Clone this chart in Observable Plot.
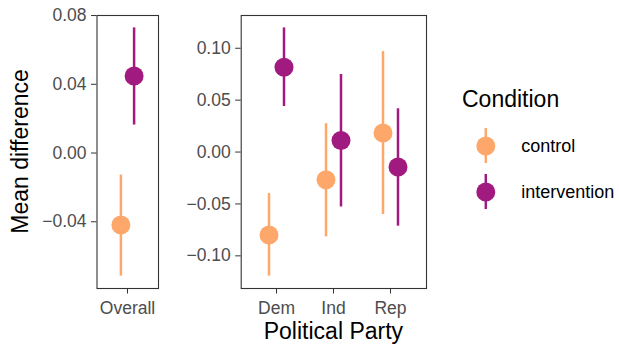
<!DOCTYPE html>
<html><head><meta charset="utf-8">
<script src="https://cdn.jsdelivr.net/npm/d3@7"></script>
<script src="https://cdn.jsdelivr.net/npm/@observablehq/plot@0.6"></script>
<style>
body{margin:0;background:#fff;}
#chart{position:relative;width:619px;height:346px;font-family:"Liberation Sans",Arial,sans-serif;overflow:hidden;background:#fff;}
#chart svg{position:absolute;overflow:visible;}
</style></head>
<body><div id="chart"></div>
<script>
// ---- data ----
const conditions = ["control", "intervention"];
const colors = ["#FDA86A", "#A11A7F"];
const overallGroup = ["Overall"];
const overallMean = [-0.0419, 0.0448];
const overallLow  = [-0.0716, 0.0163];
const overallHigh = [-0.0128, 0.0728];
const parties = ["Dem", "Ind", "Rep"];
const controlMean = [-0.0800, -0.0266, 0.0183];
const controlLow  = [-0.1195, -0.0817, -0.0602];
const controlHigh = [-0.0400, 0.0273, 0.0968];
const interventionMean = [0.0817, 0.0112, -0.0144];
const interventionLow  = [0.0439, -0.0529, -0.0714];
const interventionHigh = [0.1196, 0.0747, 0.0417];
const overallTicks = [-0.04, 0.00, 0.04, 0.08];
const partyTicks = [-0.10, -0.05, 0.00, 0.05, 0.10];
const yTitle = "Mean difference";
const xTitle = "Political Party";
const legendTitle = "Condition";

// ---- build tables ----
const overallData = conditions.map((c, i) => ({group: overallGroup[0], condition: c, mean: overallMean[i], lo: overallLow[i], hi: overallHigh[i]}));
const partyData = [];
parties.forEach((p, j) => {
  partyData.push({group: p, condition: "control", mean: controlMean[j], lo: controlLow[j], hi: controlHigh[j]});
  partyData.push({group: p, condition: "intervention", mean: interventionMean[j], lo: interventionLow[j], hi: interventionHigh[j]});
});
function expanded(data) {
  const lo = d3.min(data, d => d.lo), hi = d3.max(data, d => d.hi);
  const pad = (hi - lo) * 0.05;
  return [lo - pad, hi + pad];
}
const fmt = d3.format(".2f");
const FONT = '"Liberation Sans", Arial, sans-serif';
const chart = document.getElementById("chart");

function panel(data, domainX, ticks, opts) {
  const marks = [];
  conditions.forEach((c, i) => {
    const sub = data.filter(d => d.condition === c);
    const dx = (i === 0 ? -1 : 1) * opts.dodge;
    marks.push(Plot.ruleX(sub, {x: "group", y1: "lo", y2: "hi", stroke: "condition", strokeWidth: 2.5, dx}));
    marks.push(Plot.dot(sub, {x: "group", y: "mean", fill: "condition", r: 9.5, dx}));
  });
  const svg = Plot.plot({
    width: opts.width, height: 346,
    marginLeft: opts.ml, marginRight: opts.mr, marginTop: 15, marginBottom: 58,
    style: {fontFamily: FONT, background: "transparent", overflow: "visible"},
    x: {type: "point", domain: domainX, padding: 0.6, axis: null},
    y: {domain: expanded(data), axis: null},
    color: {domain: conditions, range: colors},
    marks: [
      ...marks,
      Plot.axisY({ticks, tickFormat: fmt, tickSize: 5.5, tickPadding: 5, stroke: "#333333", fill: "#4D4D4D", fontSize: 17.5, label: null}),
      Plot.axisX({tickSize: 5.5, tickPadding: 7.5, stroke: "#333333", fill: "#4D4D4D", fontSize: 17.5, label: null}),
      Plot.frame({stroke: "#333333", strokeWidth: 1.1})
    ]
  });
  svg.style.left = opts.left + "px";
  svg.style.top = "0px";
  chart.appendChild(svg);
}

panel(overallData, overallGroup, overallTicks, {width: 170, ml: 96.5, mr: 12, left: 0, dodge: 6.6});
panel(partyData, parties, partyTicks, {width: 260, ml: 60.7, mr: 14, left: 180, dodge: 7.5});

// ---- legend ----
const legTop = 100;
const leg = Plot.plot({
  width: 179, height: 130, margin: 0,
  style: {fontFamily: FONT, background: "transparent", overflow: "visible"},
  x: {domain: [0, 1], range: [45.3, 100], axis: null},
  y: {type: "band", domain: conditions, range: [127.3 - legTop, 210 - legTop], paddingInner: 0.229, paddingOuter: 0, axis: null},
  color: {domain: conditions, range: colors},
  marks: [
    Plot.tickX(conditions, {x: () => 0, y: d => d, stroke: d => d, strokeWidth: 2.5}),
    Plot.dot(conditions, {x: () => 0, y: d => d, fill: d => d, r: 9.5}),
    Plot.text(conditions, {x: () => 0, y: d => d, text: d => d, dx: 35.4, textAnchor: "start", fontSize: 18, fill: "#000"})
  ]
});
leg.style.left = "440px";
leg.style.top = legTop + "px";
chart.appendChild(leg);

// ---- titles ----
const ov = d3.select(chart).append("svg")
  .attr("width", 619).attr("height", 346)
  .style("left", "0px").style("top", "0px")
  .style("font-family", FONT);
ov.append("text").attr("transform", "translate(28,151.5) rotate(-90)")
  .attr("text-anchor", "middle").attr("font-size", 23).attr("fill", "#000").text(yTitle);
ov.append("text").attr("x", 333.4).attr("y", 339)
  .attr("text-anchor", "middle").attr("font-size", 23).attr("fill", "#000").text(xTitle);
ov.append("text").attr("x", 462).attr("y", 107.3)
  .attr("text-anchor", "start").attr("font-size", 23).attr("fill", "#000").text(legendTitle);
</script>
</body></html>
